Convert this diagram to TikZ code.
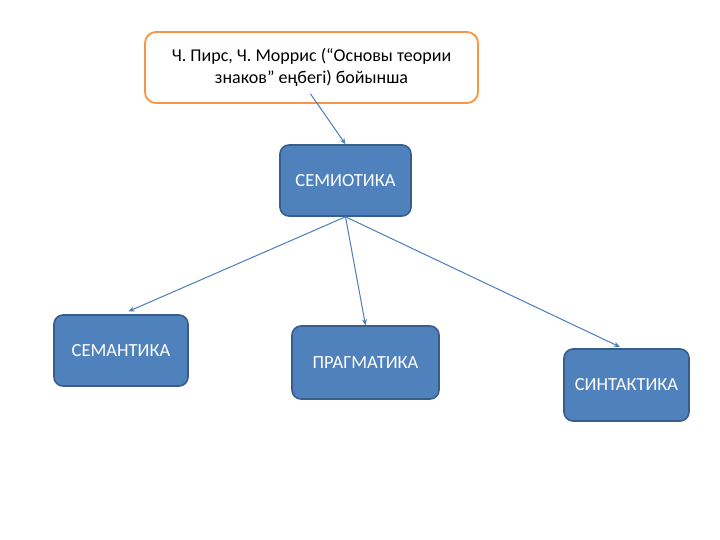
\documentclass[tikz,border=0pt]{standalone}
\usepackage{fontspec}
\setmainfont{Carlito}
\usetikzlibrary{arrows.meta}
\definecolor{boxfill}{HTML}{4F81BD}
\definecolor{boxline}{HTML}{385D8A}
\definecolor{orangeline}{HTML}{F79646}
\definecolor{conn}{HTML}{4A7EBB}
\tikzset{
  bluebox/.style={draw=boxline, line width=1.6pt, fill=boxfill, rounded corners=9pt,
    text=white, font=\fontsize{18.5}{20}\selectfont, inner sep=0pt},
  notebox/.style={draw=orangeline, line width=1.8pt, fill=white, rounded corners=11pt,
    font=\fontsize{18}{22}\selectfont, align=center, inner sep=0pt},
  conn/.style={draw=conn, line width=1pt, -{Stealth[length=6pt,width=5pt]}}
}
\begin{document}
\begin{tikzpicture}[x=1pt,y=-1pt]
\useasboundingbox (0,0) rectangle (720,540);
\fill[white] (0,0) rectangle (720,540);
\node[notebox, minimum width=333pt, minimum height=71pt] (note) at (311.5,67.5)
  {Ч. Пирс, Ч. Моррис (“Основы теории\\знаков” еңбегі) бойынша};
\node[bluebox, minimum width=131pt, minimum height=71pt] (semio) at (345.5,180.5) {СЕМИОТИКА};
\node[bluebox, minimum width=134pt, minimum height=71pt] (sem) at (121,350.5) {СЕМАНТИКА};
\node[bluebox, minimum width=147pt, minimum height=73pt] (prag) at (365.5,362.5) {ПРАГМАТИКА};
\node[bluebox, minimum width=125pt, minimum height=72pt] (syn) at (626.5,385) {СИНТАКТИКА};
\draw[conn] ([yshift=10pt,xshift=-1pt]note.south) -- (semio.north);
\draw[conn, shorten >=7pt] (semio.south) -- ([xshift=1pt]sem.north);
\draw[conn] (semio.south) -- (prag.north);
\draw[conn, shorten >=3pt] (semio.south) -- ([xshift=-4pt]syn.north);
\end{tikzpicture}
\end{document}
